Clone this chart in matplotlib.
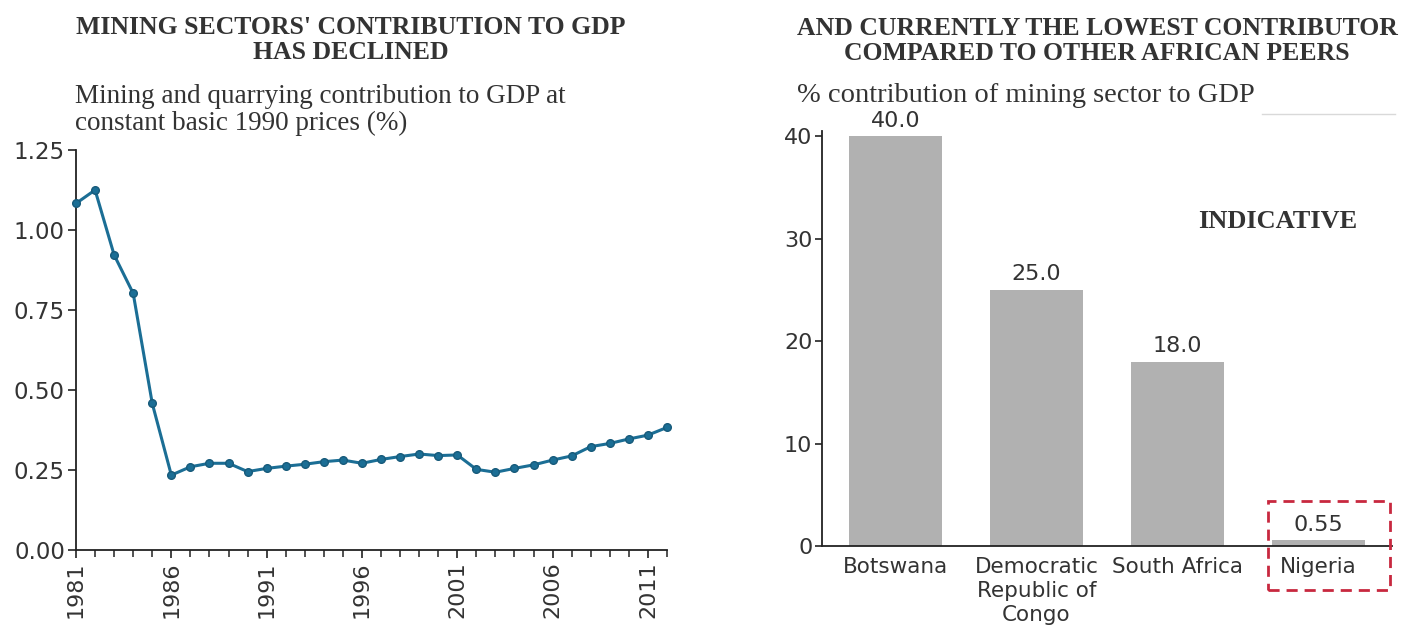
import matplotlib
matplotlib.use("Agg")
import matplotlib.pyplot as plt
from matplotlib.patches import Rectangle
from matplotlib.lines import Line2D
from matplotlib.ticker import MultipleLocator, FormatStrFormatter

# ---------------- data ----------------
years = list(range(1981, 2013))
mining_share = [1.083, 1.125, 0.922, 0.802, 0.458, 0.234, 0.260, 0.271, 0.271, 0.245,
                0.255, 0.262, 0.268, 0.276, 0.281, 0.271, 0.283, 0.292, 0.300, 0.295,
                0.297, 0.252, 0.243, 0.255, 0.266, 0.281, 0.294, 0.323, 0.333, 0.347,
                0.359, 0.383]
year_ticks = [1981, 1986, 1991, 1996, 2001, 2006, 2011]

countries = ["Botswana", "Democratic\nRepublic of\nCongo", "South Africa", "Nigeria"]
country_share = [40.0, 25.0, 18.0, 0.55]
country_labels = ["40.0", "25.0", "18.0", "0.55"]

left_title = "MINING SECTORS' CONTRIBUTION TO GDP\nHAS DECLINED"
left_sub = "Mining and quarrying contribution to GDP at\nconstant basic 1990 prices (%)"
right_title = "AND CURRENTLY THE LOWEST CONTRIBUTOR\nCOMPARED TO OTHER AFRICAN PEERS"
right_sub = "% contribution of mining sector to GDP"

# ---------------- style ----------------
W, H = 1411, 628
TXT = "#333333"
SERIF = ["Liberation Serif", "DejaVu Serif"]
SANS = ["DejaVu Sans"]
plt.rcParams["font.family"] = SANS

fig = plt.figure(figsize=(W / 100, H / 100), dpi=100)

def fx(px):
    return px / W

def fy(py):
    return 1 - py / H

# ---------------- left chart ----------------
axL = fig.add_axes([fx(76), fy(550), fx(667) - fx(76), fy(150) - fy(550)])
axL.plot(years, mining_share, color="#1b6e95", lw=2.2, marker="o", ms=5.5,
         mfc="#1b6e95", mec="#175a7a", clip_on=False, zorder=3)
axL.set_xlim(1981, 2012)
axL.set_ylim(0, 1.25)
axL.yaxis.set_major_locator(MultipleLocator(0.25))
axL.yaxis.set_major_formatter(FormatStrFormatter("%.2f"))
axL.set_xticks(year_ticks)
axL.xaxis.set_minor_locator(MultipleLocator(1))
axL.set_xticklabels([str(y) for y in year_ticks], rotation=90)
for s in ["top", "right"]:
    axL.spines[s].set_visible(False)
for s in ["left", "bottom"]:
    axL.spines[s].set_color("#222222")
    axL.spines[s].set_linewidth(1.3)
axL.tick_params(axis="y", which="major", length=6, width=1.2, color="#222222",
                labelsize=16.5, labelcolor=TXT, pad=2)
axL.tick_params(axis="x", which="major", length=6, width=1.2, color="#222222",
                labelsize=16, labelcolor=TXT, pad=2)
axL.tick_params(axis="x", which="minor", length=5, width=1.1, color="#222222")

fig.text(fx(351), fy(40), left_title, ha="center", va="center", family=SERIF,
         fontweight="bold", fontsize=18.5, color=TXT, linespacing=1.12)
fig.text(fx(75), fy(110), left_sub, ha="left", va="center", family=SERIF,
         fontsize=19.5, color=TXT, linespacing=1.12)

# ---------------- right chart ----------------
axR = fig.add_axes([fx(822), fy(546), fx(1392) - fx(822), fy(131) - fy(546)])
xpos = list(range(len(countries)))
axR.bar(xpos, country_share, width=0.66, color="#b1b1b1", zorder=2)
for x, v, lab in zip(xpos, country_share, country_labels):
    axR.annotate(lab, (x, v), xytext=(0, 4), textcoords="offset points",
                 ha="center", va="bottom", fontsize=16, color=TXT)
axR.set_xlim(-0.52, 3.52)
axR.set_ylim(0, 40.5)
axR.set_yticks([0, 10, 20, 30, 40])
axR.set_xticks(xpos)
axR.set_xticklabels(countries, linespacing=1.25)
for s in ["top", "right"]:
    axR.spines[s].set_visible(False)
for s in ["left", "bottom"]:
    axR.spines[s].set_color("#222222")
    axR.spines[s].set_linewidth(1.3)
axR.tick_params(axis="y", length=5, width=1.2, color="#222222", labelsize=16,
                labelcolor=TXT, pad=2)
axR.tick_params(axis="x", length=0, labelsize=15.5, labelcolor=TXT, pad=8)

fig.text(fx(1097), fy(41), right_title, ha="center", va="center", family=SERIF,
         fontweight="bold", fontsize=18.5, color=TXT, linespacing=1.12)
fig.text(fx(797), fy(95), right_sub, ha="left", va="center", family=SERIF,
         fontsize=20.5, color=TXT)
fig.text(fx(1278), fy(221), "INDICATIVE", ha="center", va="center", family=SERIF,
         fontweight="bold", fontsize=19, color=TXT)

# red dashed highlight box around Nigeria
fig.patches.append(Rectangle((fx(1268), fy(590)), fx(1390) - fx(1268), fy(501) - fy(590),
                             transform=fig.transFigure, fill=False, edgecolor="#c8283f",
                             lw=2, linestyle=(0, (4, 2.5))))
# faint separator line top right
fig.lines.append(Line2D([fx(1262), fx(1395)], [fy(114), fy(114)],
                        transform=fig.transFigure, color="#d9d9d9", lw=1))

fig.savefig("out.png", dpi=100, facecolor="white")
